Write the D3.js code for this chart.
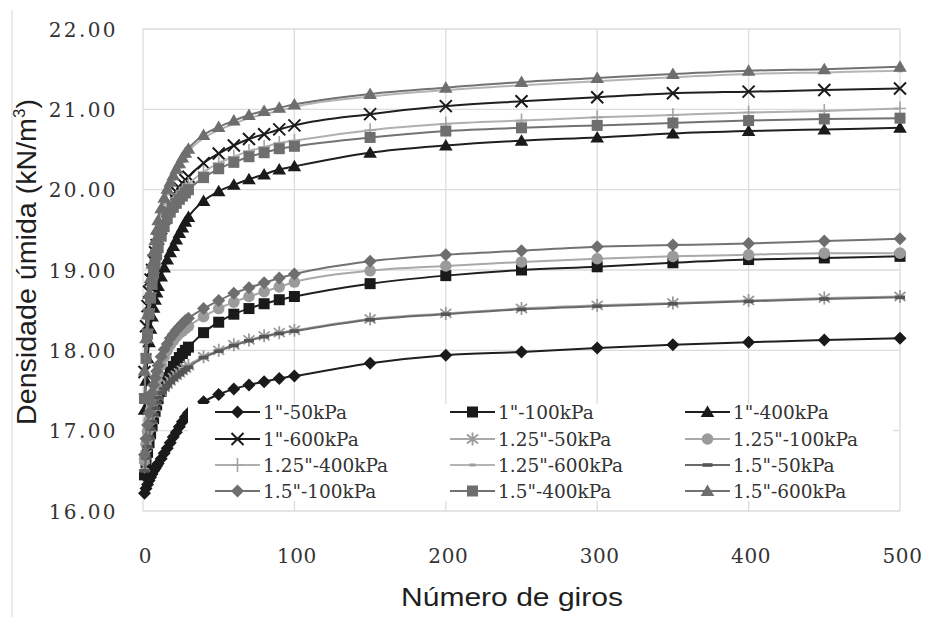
<!DOCTYPE html>
<html>
<head>
<meta charset="utf-8">
<script src="https://cdn.jsdelivr.net/npm/d3@7/dist/d3.min.js"></script>
<style>
  body { margin: 0; background: #fff; }
  svg { display: block; }
</style>
</head>
<body>
<svg id="chart" width="926" height="617"></svg>
<script>
// Número de giros (x values shared by all series)
const giros = [1,2,3,4,5,6,7,8,9,10,12,14,16,18,20,22,24,26,28,30,40,50,60,70,80,90,100,150,200,250,300,350,400,450,500];

// Densidade úmida (kN/m³) per series
const d1_50    = [16.22,16.28,16.33,16.38,16.42,16.46,16.50,16.53,16.56,16.59,16.65,16.72,16.78,16.85,16.92,16.98,17.05,17.11,17.17,17.22,17.36,17.45,17.52,17.57,17.61,17.65,17.68,17.84,17.94,17.98,18.03,18.07,18.10,18.13,18.15];
const d1_100   = [16.45,16.60,16.73,16.85,16.96,17.06,17.15,17.24,17.32,17.40,17.49,17.58,17.66,17.73,17.80,17.86,17.91,17.96,18.00,18.04,18.22,18.35,18.45,18.52,18.58,18.63,18.67,18.83,18.93,19.00,19.04,19.09,19.13,19.15,19.17];
const d1_400   = [17.26,17.62,17.90,18.10,18.27,18.42,18.53,18.63,18.72,18.80,18.92,19.03,19.13,19.22,19.30,19.38,19.46,19.53,19.60,19.66,19.86,19.98,20.06,20.13,20.19,20.25,20.29,20.46,20.55,20.61,20.65,20.70,20.73,20.75,20.77];
const d1_600   = [17.73,18.30,18.55,18.73,18.88,19.00,19.12,19.22,19.31,19.39,19.52,19.64,19.75,19.83,19.90,19.97,20.02,20.08,20.12,20.16,20.33,20.45,20.55,20.63,20.69,20.75,20.80,20.94,21.04,21.10,21.15,21.20,21.22,21.24,21.26];
const d125_50  = [16.55,16.70,16.83,16.95,17.05,17.14,17.22,17.30,17.37,17.43,17.49,17.54,17.58,17.62,17.66,17.69,17.72,17.75,17.78,17.81,17.92,18.00,18.07,18.13,18.18,18.22,18.25,18.39,18.46,18.52,18.56,18.59,18.62,18.65,18.67];
const d125_100 = [16.65,16.83,16.99,17.13,17.26,17.37,17.47,17.56,17.64,17.71,17.82,17.92,18.00,18.07,18.12,18.17,18.21,18.24,18.27,18.30,18.42,18.52,18.60,18.67,18.73,18.79,18.85,18.99,19.05,19.10,19.14,19.17,19.19,19.21,19.21];
const d125_400 = [17.45,17.95,18.26,18.51,18.71,18.88,19.02,19.14,19.25,19.34,19.48,19.61,19.71,19.79,19.85,19.90,19.95,19.99,20.03,20.07,20.22,20.33,20.41,20.48,20.53,20.58,20.61,20.74,20.82,20.86,20.90,20.93,20.96,20.98,21.01];
const d125_600 = [17.70,18.10,18.40,18.65,18.85,19.03,19.18,19.31,19.43,19.55,19.70,19.83,19.95,20.05,20.13,20.21,20.28,20.35,20.41,20.47,20.64,20.74,20.82,20.89,20.94,20.98,21.03,21.16,21.24,21.30,21.35,21.40,21.44,21.46,21.48];
const d15_50   = [16.50,16.66,16.80,16.92,17.02,17.11,17.20,17.28,17.35,17.41,17.47,17.52,17.56,17.60,17.64,17.67,17.70,17.73,17.76,17.79,17.91,17.99,18.06,18.12,18.17,18.21,18.24,18.38,18.45,18.51,18.55,18.58,18.61,18.64,18.66];
const d15_100  = [16.70,16.90,17.07,17.22,17.35,17.47,17.57,17.66,17.74,17.81,17.92,18.01,18.08,18.15,18.20,18.25,18.29,18.33,18.37,18.40,18.52,18.62,18.71,18.78,18.84,18.90,18.95,19.11,19.19,19.24,19.29,19.31,19.33,19.36,19.39];
const d15_400  = [17.40,17.90,18.20,18.45,18.65,18.82,18.96,19.08,19.19,19.28,19.42,19.54,19.64,19.72,19.78,19.83,19.88,19.92,19.96,20.00,20.15,20.26,20.34,20.41,20.46,20.51,20.54,20.65,20.73,20.77,20.80,20.83,20.86,20.88,20.89];
const d15_600  = [17.75,18.15,18.45,18.70,18.90,19.08,19.23,19.37,19.50,19.62,19.77,19.90,20.01,20.10,20.18,20.26,20.33,20.40,20.46,20.51,20.68,20.78,20.86,20.93,20.98,21.02,21.06,21.19,21.27,21.34,21.39,21.44,21.48,21.50,21.53];

const seriesNames = ['1"-50kPa','1"-100kPa','1"-400kPa','1"-600kPa',
  '1.25"-50kPa','1.25"-100kPa','1.25"-400kPa','1.25"-600kPa',
  '1.5"-50kPa','1.5"-100kPa','1.5"-400kPa','1.5"-600kPa'];
const seriesValues = [d1_50,d1_100,d1_400,d1_600,d125_50,d125_100,d125_400,d125_600,d15_50,d15_100,d15_400,d15_600];

const yTicks = [16,17,18,19,20,21,22];
const xTicks = [0,100,200,300,400,500];

// Marker shape and grey tone for each series
const markerTypes = ['diamond','square','triangle','cross','asterisk','circle','plus','dashSmall','dashLarge','diamond','square','triangle'];
const lineColors  = ['#1f1f1f','#1f1f1f','#1f1f1f','#1f1f1f','#a9a9a9','#a9a9a9','#b0b0b0','#b4b4b4','#6a6a6a','#727272','#727272','#727272'];
const markColors  = ['#1a1a1a','#1a1a1a','#1a1a1a','#1a1a1a','#9a9a9a','#9b9b9b','#a4a4a4','#9d9d9d','#555555','#6e6e6e','#6e6e6e','#6e6e6e'];

const svg = d3.select('#chart');
const x = d3.scaleLinear().domain([0, 500]).range([143, 900]);
const y = d3.scaleLinear().domain([16, 22]).range([511, 29]);

// outer frame edge on the left
svg.append('line').attr('x1', 12).attr('x2', 12).attr('y1', 10).attr('y2', 617)
  .attr('stroke', '#d6d6d6').attr('stroke-width', 1);

// gridlines
const grid = svg.append('g');
grid.selectAll('line.h').data(yTicks).join('line')
  .attr('x1', x(0)).attr('x2', x(500))
  .attr('y1', d => y(d)).attr('y2', d => y(d))
  .attr('stroke', '#dcdcdc').attr('stroke-width', 1.3);
grid.selectAll('line.v').data(xTicks).join('line')
  .attr('y1', y(16)).attr('y2', y(22))
  .attr('x1', d => x(d)).attr('x2', d => x(d))
  .attr('stroke', '#dcdcdc').attr('stroke-width', 1.3);

// axes (labels only; the grid carries the lines)
const yAxis = d3.axisLeft(y).tickValues(yTicks).tickFormat(d3.format('.2f')).tickSize(0).tickPadding(0);
const gy = svg.append('g').attr('transform', 'translate(118,0)').call(yAxis);
gy.select('.domain').remove();
gy.selectAll('text').attr('font-family', 'DejaVu Serif').attr('font-size', 20)
  .attr('fill', '#333').attr('letter-spacing', 2.4).attr('dy', '0.36em');

const xAxis = d3.axisBottom(x).tickValues(xTicks).tickFormat(d3.format('d')).tickSize(0).tickPadding(0);
const gx = svg.append('g').attr('transform', 'translate(2,548)').call(xAxis);
gx.select('.domain').remove();
gx.selectAll('text').attr('font-family', 'DejaVu Serif').attr('font-size', 20)
  .attr('fill', '#333').attr('letter-spacing', 0.6).attr('dy', '0.75em');

// axis titles
svg.append('text').attr('x', 512).attr('y', 606).attr('text-anchor', 'middle')
  .attr('font-family', 'Liberation Sans, Arial, sans-serif').attr('font-size', 26)
  .attr('fill', '#1f1f1f').attr('textLength', 222).attr('lengthAdjust', 'spacingAndGlyphs')
  .text('Número de giros');

const yt = svg.append('text').attr('transform', 'translate(36,262) rotate(-90) scale(1.06,1)').attr('text-anchor', 'middle')
  .attr('font-family', 'Liberation Sans, Arial, sans-serif').attr('font-size', 27)
  .attr('fill', '#1f1f1f');
yt.append('tspan').text('Densidade úmida (kN/m');
yt.append('tspan').attr('font-size', 16).attr('dy', -11).text('3');
yt.append('tspan').attr('dy', 11).text(')');

// marker drawing
function drawMarker(g, type, color) {
  switch (type) {
    case 'diamond':
      g.append('path').attr('d', 'M0,-6.5L6.5,0L0,6.5L-6.5,0Z').attr('fill', color);
      break;
    case 'square':
      g.append('rect').attr('x', -5.5).attr('y', -5.5).attr('width', 11).attr('height', 11).attr('fill', color);
      break;
    case 'triangle':
      g.append('path').attr('d', 'M0,-6.5L6.8,5L-6.8,5Z').attr('fill', color);
      break;
    case 'cross':
      g.append('path').attr('d', 'M-6,-6L6,6M-6,6L6,-6').attr('stroke', color).attr('stroke-width', 2).attr('fill', 'none');
      break;
    case 'asterisk':
      g.append('path').attr('d', 'M0,-6.5L0,6.5M-5.5,-4.5L5.5,4.5M-5.5,4.5L5.5,-4.5').attr('stroke', color).attr('stroke-width', 1.8).attr('fill', 'none');
      break;
    case 'circle':
      g.append('circle').attr('r', 5.8).attr('fill', color);
      break;
    case 'plus':
      g.append('path').attr('d', 'M0,-7L0,7M-6,0L6,0').attr('stroke', color).attr('stroke-width', 1.6).attr('fill', 'none');
      break;
    case 'dashSmall':
      g.append('rect').attr('x', -3).attr('y', -1.5).attr('width', 6).attr('height', 3).attr('fill', color);
      break;
    case 'dashLarge':
      g.append('rect').attr('x', -5).attr('y', -1.8).attr('width', 10).attr('height', 3.6).attr('fill', color);
      break;
  }
}

// series
const line = d3.line().x((d, i) => x(giros[i])).y(d => y(d)).curve(d3.curveMonotoneX);
const plot = svg.append('g');
seriesValues.forEach((vals, s) => {
  const g = plot.append('g');
  g.append('path').datum(vals).attr('d', line)
    .attr('fill', 'none').attr('stroke', lineColors[s]).attr('stroke-width', 2);
  g.selectAll('g.pt').data(vals).join('g').attr('class', 'pt')
    .attr('transform', (d, i) => `translate(${x(giros[i])},${y(d)})`)
    .each(function () { drawMarker(d3.select(this), markerTypes[s], markColors[s]); });
});

// legend
const legend = svg.append('g');
legend.append('rect').attr('x', 188).attr('y', 404).attr('width', 705).attr('height', 97).attr('fill', '#fff');
const colX = [215, 450, 685];
const rowY = [412, 439, 465, 491];
seriesNames.forEach((name, s) => {
  const lx = colX[s % 3], ly = rowY[Math.floor(s / 3)];
  const item = legend.append('g').attr('transform', `translate(${lx},${ly})`);
  item.append('line').attr('x1', 0).attr('x2', 45).attr('y1', 0).attr('y2', 0)
    .attr('stroke', lineColors[s]).attr('stroke-width', 2);
  drawMarker(item.append('g').attr('transform', 'translate(22.5,0)'), markerTypes[s], markColors[s]);
  item.append('text').attr('x', 48).attr('y', 0).attr('dy', '0.36em')
    .attr('font-family', 'DejaVu Serif').attr('font-size', 18.5).attr('fill', '#333')
    .text(name);
});
</script>
</body>
</html>
